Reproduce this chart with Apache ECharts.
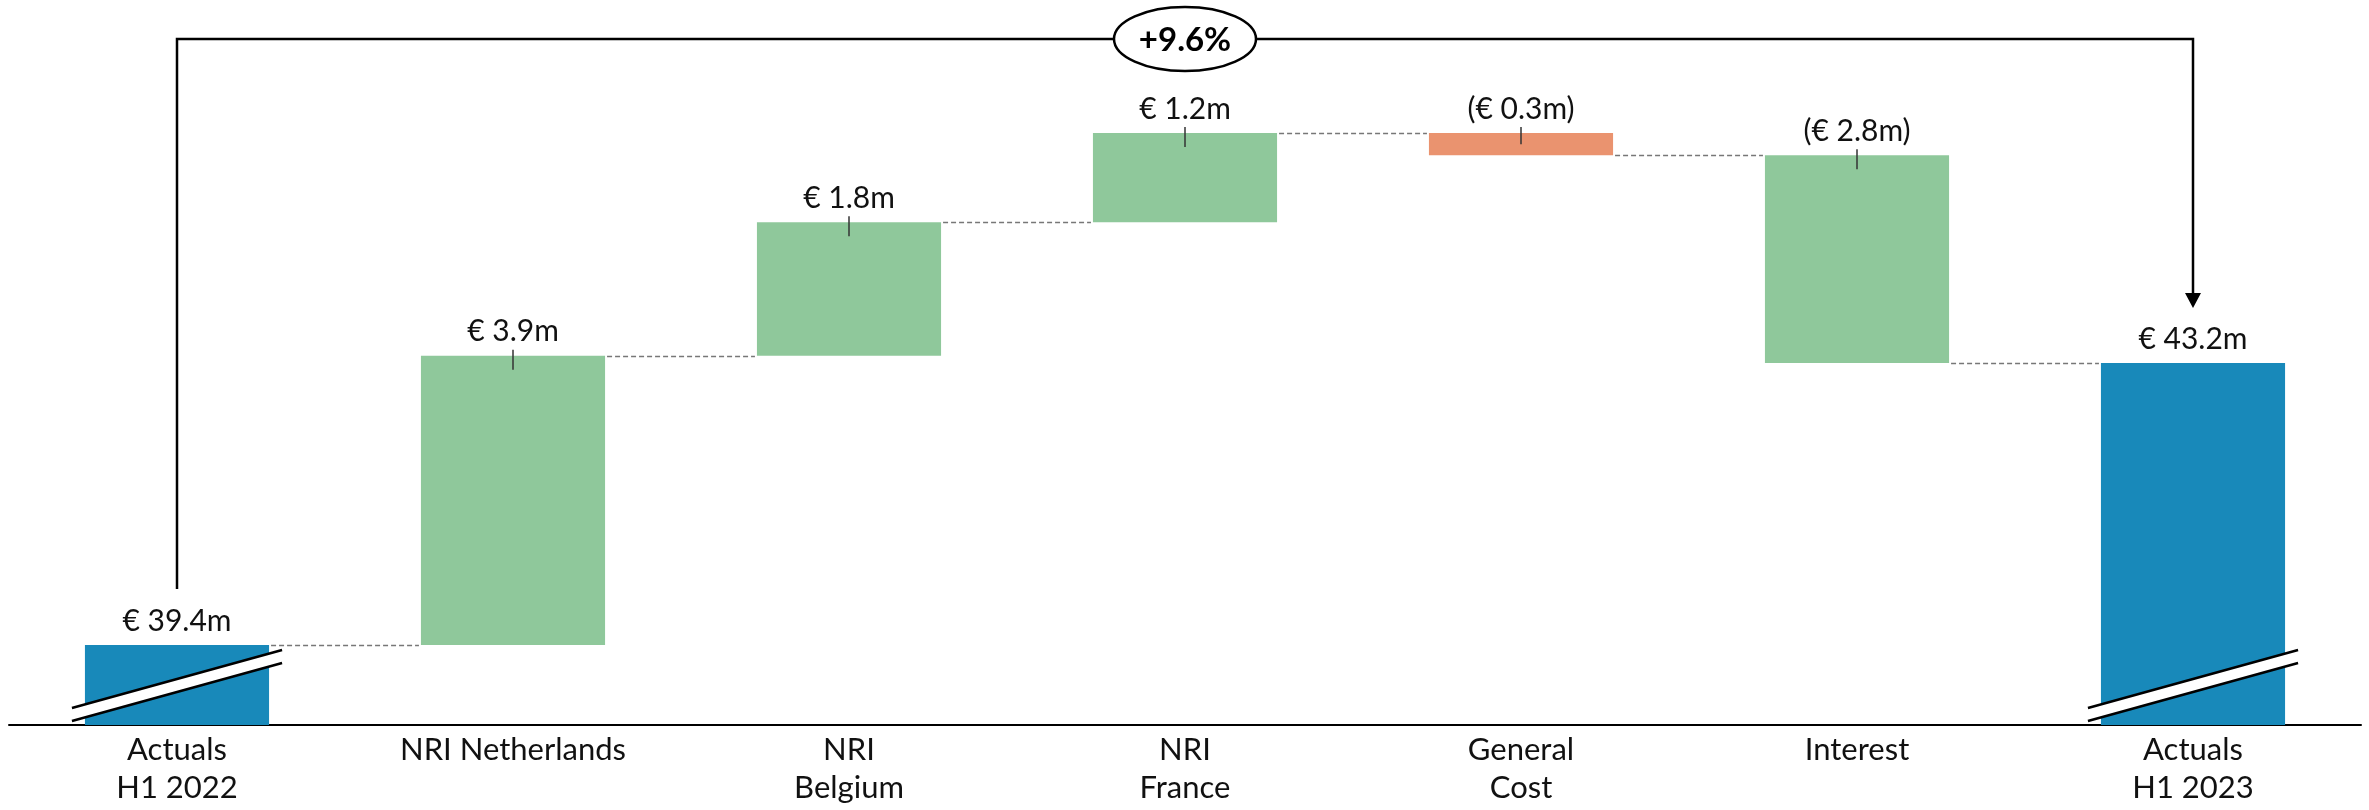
<!DOCTYPE html>
<html><head><meta charset="utf-8">
<script src="https://cdn.jsdelivr.net/npm/echarts@6/dist/echarts.min.js"></script>
<style>html,body{margin:0;padding:0;background:#fff}#c{width:2369px;height:810px}</style>
</head><body><div id="c"></div>
<script>
// ---- data ----
const categories = ['Actuals\nH1 2022', 'NRI Netherlands', 'NRI\nBelgium', 'NRI\nFrance', 'General\nCost', 'Interest', 'Actuals\nH1 2023'];
const startTotal = 39.4;
const changes = [3.9, 1.8, 1.2, -0.3, -2.8];
const endTotal = 43.2;
const valueLabels = ['€ 39.4m', '€ 3.9m', '€ 1.8m', '€ 1.2m', '(€ 0.3m)', '(€ 2.8m)', '€ 43.2m'];
const growthLabel = '+9.6%';
const barKinds = ['total', 'green', 'green', 'green', 'orange', 'green', 'total'];

// ---- styles ----
const kindColors = { total: '#1889BA', green: '#8FC89B', orange: '#EA936F' };
const FONT = 'Lato, "Noto Sans", sans-serif';

// build waterfall rows [index, low, high, level]
const rows = [];
rows.push([0, 0, startTotal, startTotal]);
let cum = startTotal;
changes.forEach((c, k) => {
  const nxt = cum + c;
  rows.push([k + 1, Math.min(cum, nxt), Math.max(cum, nxt), nxt]);
  cum = nxt;
});
rows.push([categories.length - 1, 0, endTotal, endTotal]);

const BAR_RATIO = 0.548;

function renderBar(params, api) {
  const i = api.value(0), low = api.value(1), high = api.value(2), level = api.value(3);
  const cs = params.coordSys;
  const bottomY = cs.y + cs.height;
  const catW = api.size([1, 0])[0];
  const bw = catW * BAR_RATIO;
  const pTop = api.coord([i, high]);
  let yLow = api.coord([i, low])[1];
  if (yLow > bottomY) yLow = bottomY;
  const cx = pTop[0], yTop = pTop[1];
  const x0 = cx - bw / 2;
  const kind = barKinds[i];
  const children = [];
  children.push({ type: 'rect', shape: { x: x0, y: yTop, width: bw, height: yLow - yTop }, style: { fill: kindColors[kind] } });
  if (kind === 'total') {
    const ext = 13;
    const xa = x0 - ext, xb = x0 + bw + ext;
    const l1 = [[xa, bottomY - 4], [xb, bottomY - 62]];
    const l2 = [[xa, bottomY - 17], [xb, bottomY - 75]];
    children.push({ type: 'polygon', shape: { points: [l1[0], l1[1], l2[1], l2[0]] }, style: { fill: '#fff' } });
    children.push({ type: 'line', shape: { x1: l1[0][0], y1: l1[0][1], x2: l1[1][0], y2: l1[1][1] }, style: { stroke: '#000', lineWidth: 2.5 } });
    children.push({ type: 'line', shape: { x1: l2[0][0], y1: l2[0][1], x2: l2[1][0], y2: l2[1][1] }, style: { stroke: '#000', lineWidth: 2.5 } });
  } else {
    const h = yLow - yTop;
    children.push({ type: 'line', shape: { x1: cx, y1: yTop - 6, x2: cx, y2: yTop + Math.min(14, h * 0.5) }, style: { stroke: '#333', lineWidth: 1.5 } });
  }
  children.push({ type: 'text', x: cx, y: yTop - 24, style: { text: valueLabels[i], font: '30px ' + FONT, fill: '#111', align: 'center', verticalAlign: 'middle' } });
  if (i < categories.length - 1) {
    const pNext = api.coord([i + 1, level]);
    const yL = Math.round(pNext[1]) + 0.5;
    children.push({ type: 'line', shape: { x1: x0 + bw + 2, y1: yL, x2: pNext[0] - bw / 2 - 2, y2: yL }, style: { stroke: '#777', lineWidth: 1.5, lineDash: [5, 3] } });
  }
  return { type: 'group', children };
}

function renderBracket(params, api) {
  const cs = params.coordSys;
  const a = api.coord([0, startTotal]);
  const b = api.coord([categories.length - 1, endTotal]);
  const yTop = cs.y + 29;
  const yLeft = a[1] - 56;
  const tipY = b[1] - 55;
  const arrowH = 15, arrowW = 8;
  const midX = (a[0] + b[0]) / 2;
  return {
    type: 'group', children: [
      { type: 'polyline', shape: { points: [[a[0], yLeft], [a[0], yTop], [b[0], yTop], [b[0], tipY - arrowH + 1]] }, style: { stroke: '#000', lineWidth: 2.5, fill: null } },
      { type: 'polygon', shape: { points: [[b[0] - arrowW, tipY - arrowH], [b[0] + arrowW, tipY - arrowH], [b[0], tipY]] }, style: { fill: '#000' } },
      { type: 'ellipse', shape: { cx: midX, cy: yTop, rx: 71, ry: 32 }, style: { fill: '#fff', stroke: '#000', lineWidth: 2.5 } },
      { type: 'text', x: midX, y: yTop + 1, style: { text: growthLabel, font: 'bold 33px ' + FONT, fill: '#000', align: 'center', verticalAlign: 'middle' } }
    ]
  };
}

const chart = echarts.init(document.getElementById('c'), null, { renderer: 'canvas' });
chart.setOption({
  animation: false,
  backgroundColor: '#fff',
  grid: { left: 9, right: 8, top: 10, bottom: 85, containLabel: false },
  xAxis: {
    type: 'category', data: categories,
    axisTick: { show: false },
    axisLine: { lineStyle: { color: '#000', width: 2 } },
    axisLabel: { interval: 0, margin: 6, fontFamily: FONT, fontSize: 31, color: '#111', lineHeight: 38 }
  },
  yAxis: { type: 'value', min: 38.32, max: 47.96, show: false, splitLine: { show: false } },
  series: [
    { type: 'custom', renderItem: renderBar, data: rows, encode: { x: 0, y: [1, 2] }, clip: false, z: 2 },
    { type: 'custom', renderItem: renderBracket, data: [[0, startTotal]], encode: { x: 0, y: 1 }, clip: false, z: 3 }
  ]
});
</script></body></html>
